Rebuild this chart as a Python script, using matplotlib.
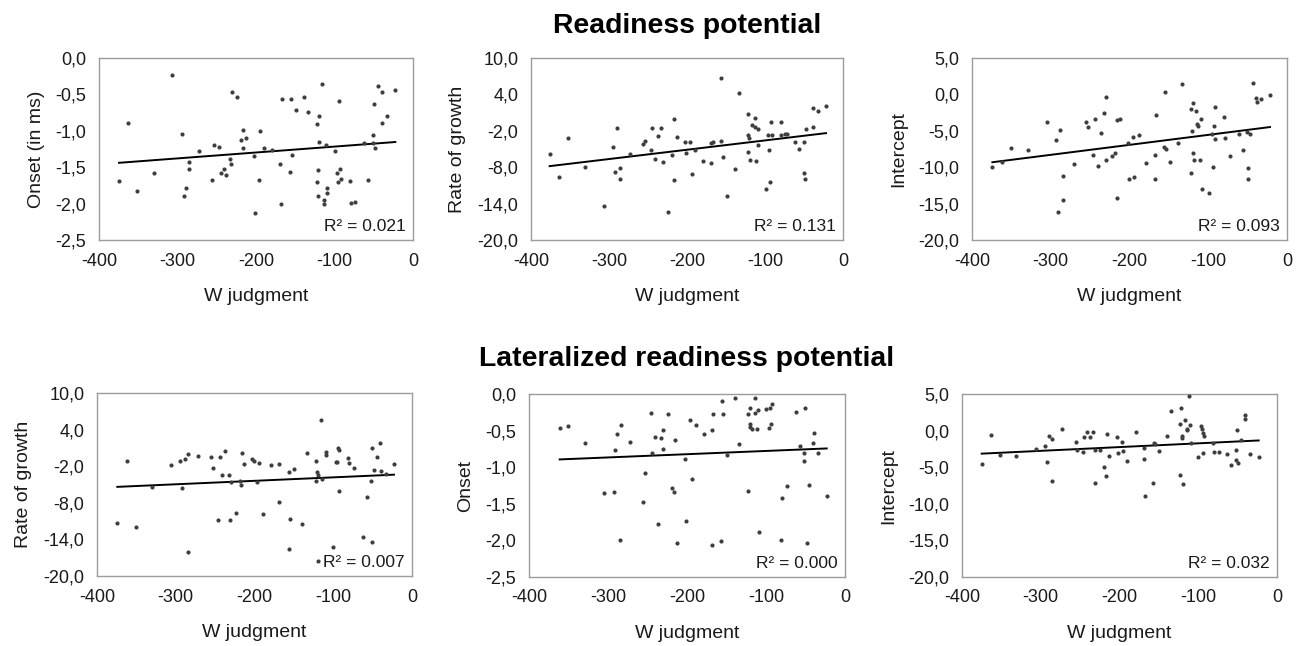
import numpy as np
import matplotlib
matplotlib.use("Agg")
import matplotlib.pyplot as plt
from matplotlib.ticker import FuncFormatter

plt.rcParams['font.family'] = ['Liberation Sans', 'DejaVu Sans']
plt.rcParams['axes.unicode_minus'] = False

# ---------------- data ----------------
# Readiness potential: Onset
rp_onset_x = [-306.6, -362.6, -374.5, -351.6, -330.4, -294.3, -285.4, -285.4, -289.2, -292.1,
              -272.2, -253.9, -246.7, -255.6, -245.0, -240.8, -237.8, -233.5, -231.4, -230.6,
              -224.2, -216.1, -218.7, -213.2, -217.0, -202.5, -194.5, -189.8, -196.6, -201.3,
              -179.2, -169.0, -168.6, -166.9, -155.8, -149.0, -138.9, -133.8, -154.1, -156.7,
              -115.9, -119.7, -122.3, -119.3, -111.3, -121.0, -121.9, -109.6, -109.1, -120.6,
              -113.4, -113.4, -99.8, -94.3, -96.4, -92.6, -95.1, -91.7, -80.7, -79.0,
              -73.5, -62.0, -56.9, -51.4, -50.5, -48.0, -50.1, -44.2, -39.1, -39.9,
              -33.1, -22.5]
rp_onset_y = [-0.24, -0.89, -1.69, -1.83, -1.58, -1.04, -1.43, -1.53, -1.78, -1.90,
              -1.28, -1.19, -1.22, -1.68, -1.58, -1.53, -1.61, -1.39, -1.45, -0.47,
              -0.53, -0.99, -1.12, -1.10, -1.23, -1.34, -1.00, -1.23, -1.68, -2.13,
              -1.26, -1.45, -2.01, -0.56, -0.57, -0.71, -0.54, -0.74, -1.33, -1.56,
              -0.36, -0.79, -0.91, -1.16, -1.19, -1.54, -1.71, -1.79, -1.86, -1.90,
              -1.95, -2.01, -1.28, -0.59, -1.58, -1.53, -1.70, -1.66, -1.69, -1.99,
              -1.98, -1.17, -1.67, -1.17, -1.06, -1.24, -0.63, -0.39, -0.47, -0.89,
              -0.79, -0.44]

# Readiness potential: Rate of growth
rp_rate_x = [-376.1, -363.7, -352.6, -330.8, -306.5, -294.6, -289.4, -292.8, -286.0, -286.0,
             -273.2, -256.1, -254.0, -246.7, -245.0, -237.8, -233.5, -241.2, -231.4, -224.1,
             -219.8, -217.3, -216.4, -213.4, -202.8, -196.4, -201.9, -190.0, -194.2, -179.3,
             -168.6, -166.5, -168.6, -156.7, -155.8, -154.1, -149.0, -138.7, -133.6, -122.1,
             -121.7, -120.4, -121.7, -119.1, -113.1, -116.1, -113.1, -108.9, -111.0, -108.9,
             -99.0, -93.1, -94.8, -95.6, -92.2, -90.9, -79.8, -79.0, -74.3, -71.7,
             -61.5, -56.4, -50.4, -49.9, -49.1, -47.4, -38.4, -38.8, -32.0, -21.8]
rp_rate_y = [-5.85, -9.54, -3.21, -7.94, -14.44, -4.75, -1.56, -8.71, -8.05, -9.87,
             -5.85, -4.20, -3.76, -5.19, -1.61, -2.88, -1.61, -6.57, -7.17, -15.43,
             -6.07, -10.09, -0.13, -3.10, -3.81, -3.81, -5.74, -5.24, -9.15, -6.90,
             -4.03, -3.92, -7.34, -3.76, 6.75, -6.35, -12.73, -8.33, 4.17, 0.75,
             -2.77, -3.21, -5.52, -6.79, 0.09, -1.12, -1.45, -1.67, -7.01, -4.36,
             -11.57, -10.47, -5.13, -2.77, -0.51, -2.71, -0.51, -2.77, -2.55, -2.49,
             -3.87, -5.02, -3.87, -8.99, -9.92, -1.72, -1.45, 1.74, 1.19, 2.02]

# Readiness potential: Intercept
rp_int_x = [-374.1, -361.4, -350.8, -329.2, -305.0, -293.1, -288.4, -284.2, -284.2, -291.4,
            -271.1, -254.9, -252.8, -243.9, -246.0, -240.1, -236.7, -232.4, -230.3, -229.9,
            -222.7, -218.0, -215.5, -212.1, -216.3, -201.5, -200.2, -195.5, -193.8, -188.3,
            -178.6, -168.0, -168.0, -165.9, -154.8, -155.7, -153.6, -148.9, -138.3, -133.6,
            -121.7, -118.8, -115.0, -120.5, -120.0, -118.3, -121.3, -113.7, -113.3, -108.6,
            -110.7, -108.2, -99.3, -95.4, -94.2, -93.3, -92.0, -91.2, -80.2, -78.9,
            -72.1, -61.1, -56.0, -50.5, -47.1, -50.1, -49.6, -43.7, -39.0, -38.6,
            -32.7, -21.6]
rp_int_y = [-9.91, -9.22, -7.34, -7.66, -3.85, -6.33, -4.91, -11.24, -14.50, -16.19,
            -9.54, -3.85, -4.54, -3.35, -8.30, -9.82, -5.37, -2.57, -0.41, -8.99,
            -8.44, -8.03, -3.58, -3.35, -14.27, -6.65, -11.65, -5.83, -11.38, -5.60,
            -9.45, -8.39, -11.56, -2.84, 0.37, -7.20, -7.48, -9.27, -6.61, 1.47,
            -2.02, -1.24, -2.34, -5.00, -8.07, -9.04, -10.78, -4.04, -4.31, -3.44,
            -9.04, -12.98, -13.58, -5.41, -9.91, -4.40, -1.70, -6.06, -3.17, -5.96,
            -8.53, -5.41, -7.61, -5.23, -5.41, -10.09, -11.61, 1.56, -0.55, -1.10,
            -0.64, -0.05]

# Lateralized readiness potential: Rate of growth
lrp_rate_x = [-374.2, -361.9, -350.9, -330.2, -305.6, -294.2, -288.7, -284.9, -291.6, -284.9,
              -271.7, -254.8, -253.1, -244.2, -237.5, -240.8, -232.8, -229.8, -246.3, -231.1,
              -223.9, -215.9, -213.3, -218.8, -216.7, -202.8, -201.1, -194.3, -196.4, -189.6,
              -179.0, -168.9, -168.9, -156.6, -149.4, -154.5, -155.8, -139.3, -133.8, -121.9,
              -120.6, -119.8, -121.5, -116.0, -113.9, -109.2, -109.6, -94.4, -92.3, -96.9,
              -94.8, -92.7, -99.9, -80.8, -79.6, -73.2, -62.2, -57.6, -50.8, -44.4,
              -40.2, -48.3, -39.8, -33.4, -51.6, -51.2, -22.9, -119.4]
lrp_rate_y = [-11.24, -1.11, -11.89, -5.33, -1.77, -1.22, -0.84, -0.02, -5.54, -16.05,
              -0.40, -0.56, -2.32, -0.51, 0.48, -3.52, -3.41, -4.61, -10.80, -10.80,
              -9.65, 0.09, -1.66, -4.40, -5.16, -0.89, -1.22, -1.49, -4.61, -9.76,
              -1.82, -1.71, -7.95, -2.92, -2.42, -10.69, -15.62, -11.40, 0.15, -1.11,
              -2.92, -3.46, -4.40, 5.62, -4.12, 0.31, -0.24, 0.97, 0.64, -1.38,
              -1.38, -6.04, -15.29, -0.62, -1.49, -2.32, -13.54, -7.13, 0.97, -0.56,
              1.84, -2.59, -2.75, -3.30, -4.40, -14.36, -1.60, -17.48]

# Lateralized readiness potential: Onset
lrp_onset_x = [-361.2, -350.2, -329.5, -305.1, -292.8, -291.1, -288.2, -284.0, -284.4, -271.7,
               -255.3, -252.7, -246.0, -244.3, -240.5, -237.1, -232.9, -230.4, -230.8, -223.6,
               -218.6, -216.9, -215.6, -212.7, -202.5, -200.8, -196.2, -194.1, -189.0, -178.5,
               -168.8, -168.4, -166.7, -156.5, -155.7, -154.4, -148.9, -138.8, -133.8, -122.4,
               -122.4, -119.8, -120.7, -120.7, -117.3, -114.3, -113.9, -111.0, -110.1, -108.9,
               -100.4, -96.6, -95.4, -93.2, -92.8, -81.0, -79.7, -73.0, -62.4, -57.4,
               -51.1, -51.5, -51.9, -48.5, -45.1, -40.5, -39.7, -33.8, -23.2]
lrp_onset_y = [-0.47, -0.44, -0.67, -1.35, -1.34, -0.77, -0.55, -0.42, -2.00, -0.66,
               -1.47, -1.08, -0.26, -0.81, -0.59, -1.78, -0.60, -0.49, -0.75, -0.28,
               -1.29, -1.34, -0.63, -2.03, -0.89, -1.74, -0.36, -1.16, -0.43, -0.55,
               -0.49, -2.06, -0.27, -2.01, -0.10, -0.28, -0.84, -0.06, -0.68, -0.28,
               -1.33, -0.19, -0.41, -0.45, -0.48, -0.06, -0.26, -0.48, -0.22, -1.88,
               -0.21, -0.47, -0.19, -0.41, -0.13, -2.00, -1.42, -1.26, -0.25, -0.71,
               -0.19, -0.80, -0.91, -2.03, -1.24, -0.67, -0.53, -0.81, -1.40]

# Lateralized readiness potential: Intercept
lrp_int_x = [-375.0, -362.8, -351.7, -331.0, -306.5, -294.6, -292.5, -289.5, -285.7, -285.3,
             -272.6, -255.7, -254.4, -246.8, -245.1, -241.3, -237.9, -233.7, -231.5, -231.1,
             -224.8, -219.3, -217.1, -216.3, -213.8, -202.8, -201.5, -196.8, -195.1, -190.1,
             -179.5, -169.3, -169.3, -167.2, -157.0, -155.8, -154.9, -149.8, -139.7, -134.6,
             -123.2, -121.9, -122.8, -121.1, -120.2, -119.8, -116.8, -114.3, -114.3, -111.7,
             -110.1, -109.6, -100.3, -96.5, -95.7, -94.0, -92.7, -93.5, -81.7, -80.4,
             -73.7, -63.1, -58.0, -51.6, -51.6, -49.1, -51.2, -45.7, -41.1, -40.6,
             -33.9, -23.3]
lrp_int_y = [-4.53, -0.66, -3.30, -3.53, -2.48, -2.16, -4.26, -0.75, -1.16, -6.82,
             0.26, -1.57, -2.71, -2.98, -0.84, -0.25, -0.93, -0.20, -7.18, -2.62,
             -2.62, -5.04, -6.27, -0.52, -3.49, -0.89, -3.03, -1.62, -2.80, -4.17,
             -0.16, -2.44, -3.85, -8.96, -7.14, -1.71, -1.84, -2.85, -0.70, 2.67,
             -6.13, 3.13, 0.89, -1.07, -0.79, -7.27, 1.49, 0.21, 0.07, 4.77,
             0.76, -1.71, -3.58, 0.57, 0.16, -0.38, -0.75, -3.03, -1.71, -2.94,
             -2.89, -3.21, -4.76, -2.71, -3.99, -4.49, 0.03, -1.34, 1.53, 2.17,
             -3.17, -3.67]

panel_x = [rp_onset_x, rp_rate_x, rp_int_x, lrp_rate_x, lrp_onset_x, lrp_int_x]
panel_y = [rp_onset_y, rp_rate_y, rp_int_y, lrp_rate_y, lrp_onset_y, lrp_int_y]
y_labels = ["Onset (in ms)", "Rate of growth", "Intercept",
            "Rate of growth", "Onset", "Intercept"]
r2_labels = ["R² = 0.021", "R² = 0.131", "R² = 0.093",
             "R² = 0.007", "R² = 0.000", "R² = 0.032"]
y_ticks_onset = [-2.5, -2.0, -1.5, -1.0, -0.5, 0.0]
y_ticks_rate = [-20, -14, -8, -2, 4, 10]
y_ticks_int = [-20, -15, -10, -5, 0, 5]
panel_yticks = [y_ticks_onset, y_ticks_rate, y_ticks_int,
                y_ticks_rate, y_ticks_onset, y_ticks_int]
x_label = "W judgment"
x_ticks = [-400, -300, -200, -100, 0]
titles = ["Readiness potential", "Lateralized readiness potential"]

# ---------------- layout ----------------
W, H = 1299, 646
fig = plt.figure(figsize=(W / 100, H / 100), dpi=100)

# pixel boxes: left, top, right, bottom
boxes = [(99, 58, 413, 240), (531, 58, 843, 240), (972, 58, 1287, 240),
         (97, 393, 412, 576), (529, 394, 845, 577), (962, 394, 1277, 577)]

comma = FuncFormatter(lambda v, p: f"{v:.1f}".replace('.', ','))
spine_col = '#9c9c9c'
txt_col = '#1a1a1a'

for i in range(6):
    l, t, r, b = boxes[i]
    ax = fig.add_axes([l / W, 1 - b / H, (r - l) / W, (b - t) / H])
    x = np.array(panel_x[i])
    y = np.array(panel_y[i])
    ax.scatter(x, y, s=9, color='#3f3f3f', linewidths=0, zorder=3)
    k, c = np.polyfit(x, y, 1)
    xs = np.array([x.min(), x.max()])
    ax.plot(xs, k * xs + c, color='black', lw=1.4, zorder=2)
    yt = panel_yticks[i]
    ax.set_xlim(-400, 0)
    ax.set_ylim(yt[0], yt[-1])
    ax.set_xticks(x_ticks)
    ax.set_yticks(yt)
    ax.yaxis.set_major_formatter(comma)
    ax.tick_params(length=0, labelsize=13, pad=9, colors=txt_col)
    for s in ax.spines.values():
        s.set_color(spine_col)
        s.set_linewidth(1.0)
    ax.set_ylabel(y_labels[i], fontsize=14, color=txt_col, labelpad=8)
    ax.set_xlabel(x_label, fontsize=14, color=txt_col, labelpad=13)
    ax.text(0.978, 0.05, r2_labels[i], transform=ax.transAxes, ha='right',
            va='baseline', fontsize=12.5, color=txt_col, zorder=4)

fig.text(687 / W, 1 - 33 / H, titles[0], ha='center', va='baseline',
         fontsize=20.4, fontweight='bold', color='black')
fig.text(687 / W, 1 - 366 / H, titles[1], ha='center', va='baseline',
         fontsize=20.4, fontweight='bold', color='black')

fig.savefig('out.png', dpi=100, facecolor='white')
